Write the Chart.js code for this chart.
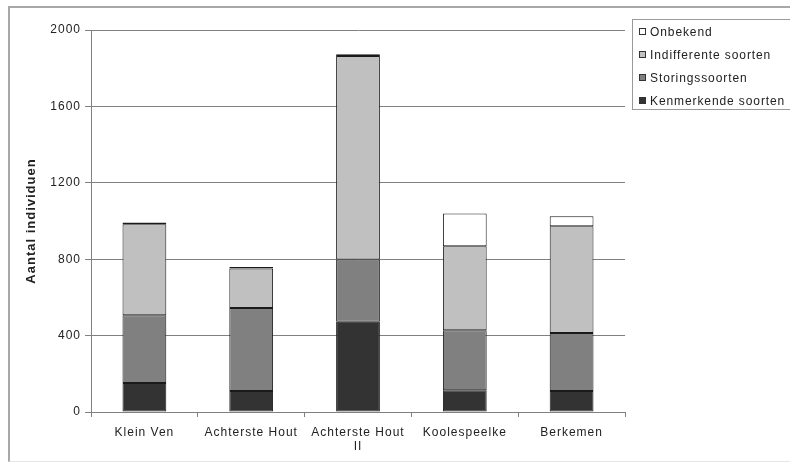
<!DOCTYPE html>
<html>
<head>
<meta charset="utf-8">
<script src="https://cdn.jsdelivr.net/npm/chart.js@4/dist/chart.umd.min.js"></script>
<style>
  html, body { margin: 0; padding: 0; background: #fff; }
  #wrap { position: relative; width: 790px; height: 470px; overflow: hidden; }
  #frame { position: absolute; left: 8px; top: 6px; width: 800px; height: 456px; border-left: 2px solid #a8a8a8; border-top: 2px solid #a8a8a8; border-bottom: 1px solid #e6e6e6; box-sizing: border-box; pointer-events: none; }
  #legend { position: absolute; left: 632px; top: 19px; width: 170px; height: 91px; border: 1px solid #9a9a9a; box-sizing: border-box; font-family: "Liberation Sans", Arial, sans-serif; font-size: 12px; letter-spacing: 0.9px; color: #222; }
  .item { position: absolute; left: 6px; white-space: nowrap; line-height: 14px; }
  .sw { display: inline-block; width: 5px; height: 5px; border: 1px solid #333; margin-right: 4px; vertical-align: 1px; }
</style>
</head>
<body>
<div id="wrap">
  <canvas id="c" width="790" height="470"></canvas>
  <div id="frame"></div>
  <div id="legend"></div>
</div>
<script>
const categories = ["Klein Ven", "Achterste Hout", ["Achterste Hout", "II"], "Koolespeelke", "Berkemen"];
const kenmerkende = [152, 110, 472, 114, 110];
const storings = [354, 435, 326, 314, 304];
const indifferente = [477, 206, 1066, 440, 559];
const onbekend = [9, 8, 9, 171, 52];
const yTicks = [0, 400, 800, 1200, 1600, 2000];

const seriesNames = ["Kenmerkende soorten", "Storingssoorten", "Indifferente soorten", "Onbekend"];
const seriesColors = ["#333333", "#808080", "#c0c0c0", "#ffffff"];
const seriesData = [kenmerkende, storings, indifferente, onbekend];

const datasets = seriesNames.map((n, i) => ({
  label: n,
  data: seriesData[i],
  backgroundColor: seriesColors[i],
  borderColor: "#1a1a1a",
  borderWidth: 1,
  borderSkipped: false,
  categoryPercentage: 1.0,
  barPercentage: 0.41
}));

// HTML legend (reverse order, as in reference)
const leg = document.getElementById("legend");
const order = [3, 2, 1, 0];
order.forEach((si, k) => {
  const d = document.createElement("div");
  d.className = "item";
  d.style.top = (5 + k * 23) + "px";
  const s = document.createElement("span");
  s.className = "sw";
  s.style.background = seriesColors[si];
  d.appendChild(s);
  d.appendChild(document.createTextNode(seriesNames[si]));
  leg.appendChild(d);
});

const font = { family: "'Liberation Sans', Arial, sans-serif", size: 12 };

const spacing = {
  id: "spacing",
  beforeInit(chart) { chart.ctx.letterSpacing = "1px"; },
  beforeUpdate(chart) { chart.ctx.letterSpacing = "1px"; },
  beforeDraw(chart) { chart.ctx.letterSpacing = "1px"; }
};

new Chart(document.getElementById("c"), {
  type: "bar",
  data: { labels: categories, datasets },
  plugins: [spacing],
  options: {
    responsive: false,
    animation: false,
    layout: { padding: { left: 0, right: 165, top: 30, bottom: 0 } },
    plugins: { legend: { display: false }, tooltip: { enabled: false } },
    scales: {
      x: {
        stacked: true,
        grid: { display: true, drawOnChartArea: false, drawTicks: true, tickLength: 5, color: "#808080", offset: true },
        border: { display: true, color: "#808080", width: 1 },
        ticks: { font, color: "#222", padding: 8, maxRotation: 0, autoSkip: false },
        afterFit: (s) => { s.height = 58; }
      },
      y: {
        stacked: true,
        min: 0, max: 2000,
        afterBuildTicks: (s) => { s.ticks = yTicks.map(v => ({ value: v })); },
        grid: { color: "#808080", tickLength: 6, drawTicks: true },
        border: { display: true, color: "#808080", width: 1 },
        ticks: { font, color: "#222", padding: 4, callback: (v) => String(v) },
        title: { display: true, text: "Aantal individuen", font: { ...font, size: 13, weight: "bold" }, color: "#222", padding: { top: 24, bottom: 0 } },
        afterFit: (s) => { s.width = 91; }
      }
    }
  }
});
</script>
</body>
</html>
